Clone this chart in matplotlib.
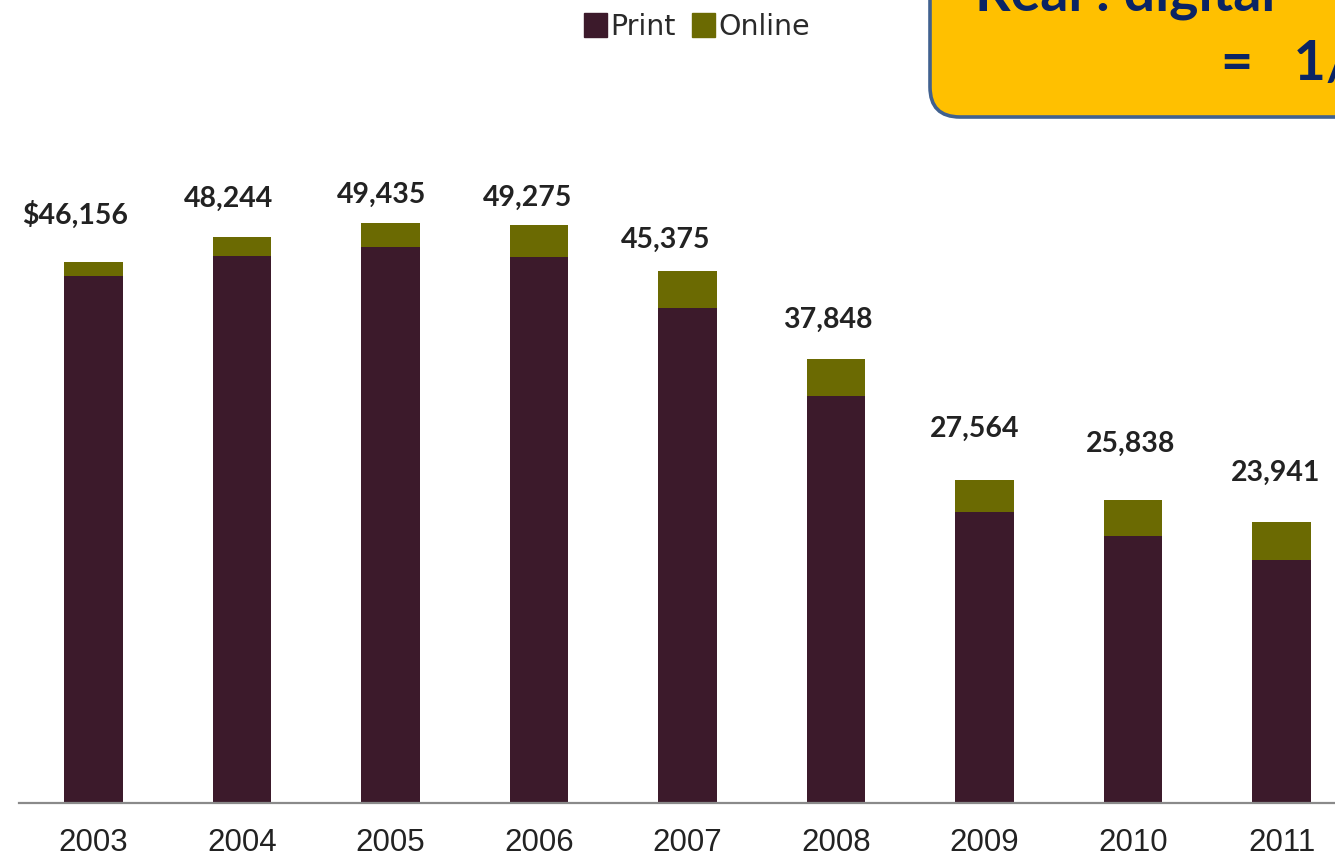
"""
Ingresos publicitarios de periodicos (print vs online), 2003-2011.
Recreacion del grafico de barras apiladas de la diapositiva.

Genera:
  - out.png
"""
import matplotlib
matplotlib.use("Agg")
import matplotlib.pyplot as plt
from matplotlib.patches import FancyBboxPatch, Patch

# --- Datos (millones de USD) ---
YEARS = ["2003", "2004", "2005", "2006", "2007", "2008", "2009", "2010", "2011"]
PRINT = [44939, 46703, 47408, 46611, 42209, 34740, 24821, 22795, 20692]
ONLINE = [1217, 1541, 2027, 2664, 3166, 3108, 2743, 3043, 3249]
LABELS = ["$46,156", "48,244", "49,435", "49,275", "45,375",
          "37,848", "27,564", "25,838", "23,941"]

# --- Estilo ---
C_PRINT = "#3C1A2B"
C_ONLINE = "#6B6A02"
C_BOX = "#FFC000"
C_BOX_EDGE = "#41618F"
C_NAVY = "#0B2463"
C_TEXT = "#222222"

W, H, DPI = 1335, 858, 100
PX = 72 / DPI  # puntos por pixel

# desplazamiento manual de cada etiqueta (como en la diapositiva), en px
LABEL_DX_PX = [-18, -13, -9, -11, -22, -8, -10, -2, -6]
LABEL_GAP_PX = [47, 39, 29, 28, 31, 39, 51, 56, 49]

plt.rcParams.update({
    "font.family": ["Lato", "DejaVu Sans"],
    "figure.facecolor": "white",
    "axes.facecolor": "none",
})

fig = plt.figure(figsize=(W / DPI, H / DPI), dpi=DPI)

# eje principal: la diapositiva esta recortada por la derecha
x0_px, slot_px, base_px = 19.25, 148.5, 803
ax = fig.add_axes([x0_px / W, (H - base_px) / H, 9 * slot_px / W, base_px / H])

x = list(range(len(YEARS)))
ax.bar(x, PRINT, width=0.397, color=C_PRINT, zorder=2)
ax.bar(x, ONLINE, bottom=PRINT, width=0.397, color=C_ONLINE, zorder=2)

ax.set_xlim(-0.5, 8.5)
ax.set_ylim(0, 68500)
ax.set_yticks([])
ax.set_xticks(x)
ax.set_xticklabels(YEARS, family=["Liberation Sans", "DejaVu Sans"],
                   fontsize=22.5, color=C_TEXT)
ax.tick_params(axis="x", length=0, pad=18)
for side in ("top", "right", "left"):
    ax.spines[side].set_visible(False)
ax.spines["bottom"].set_color("#8A8A8A")
ax.spines["bottom"].set_linewidth(1.6)

# etiquetas de total
for xi, p, o, lab, dx, gap in zip(x, PRINT, ONLINE, LABELS, LABEL_DX_PX, LABEL_GAP_PX):
    ax.annotate(lab, (xi, p + o), xytext=(dx * PX, gap * PX),
                textcoords="offset points", ha="center", va="center",
                fontsize=20.5, fontweight="bold", color=C_TEXT, clip_on=False)

# leyenda
handles = [Patch(color=C_PRINT, label="Print"), Patch(color=C_ONLINE, label="Online")]
fig.legend(handles=handles, loc="center", bbox_to_anchor=(697 / W, 1 - 27 / H),
           ncol=2, frameon=False, handlelength=0.8, handleheight=0.9,
           handletextpad=0.1, columnspacing=0.6,
           prop={"family": "DejaVu Sans", "size": 20.5}, labelcolor="#2a2a2a")

# recuadro amarillo (coordenadas en pixeles de la imagen)
ov = fig.add_axes([0, 0, 1, 1], zorder=5)
ov.set_xlim(0, W)
ov.set_ylim(H, 0)
ov.axis("off")
ov.add_patch(FancyBboxPatch((930, -120), 560, 237,
                            boxstyle="round,pad=0,rounding_size=30",
                            facecolor=C_BOX, edgecolor=C_BOX_EDGE, linewidth=2.6))
ov.text(975, 10, "Real : digital", ha="left", va="baseline",
        fontsize=40, fontweight="bold", color=C_NAVY)
ov.text(1221, 80, "=   1/", ha="left", va="baseline",
        fontsize=40, fontweight="bold", color=C_NAVY)

fig.savefig("out.png", dpi=DPI)
print("[OK] out.png")
